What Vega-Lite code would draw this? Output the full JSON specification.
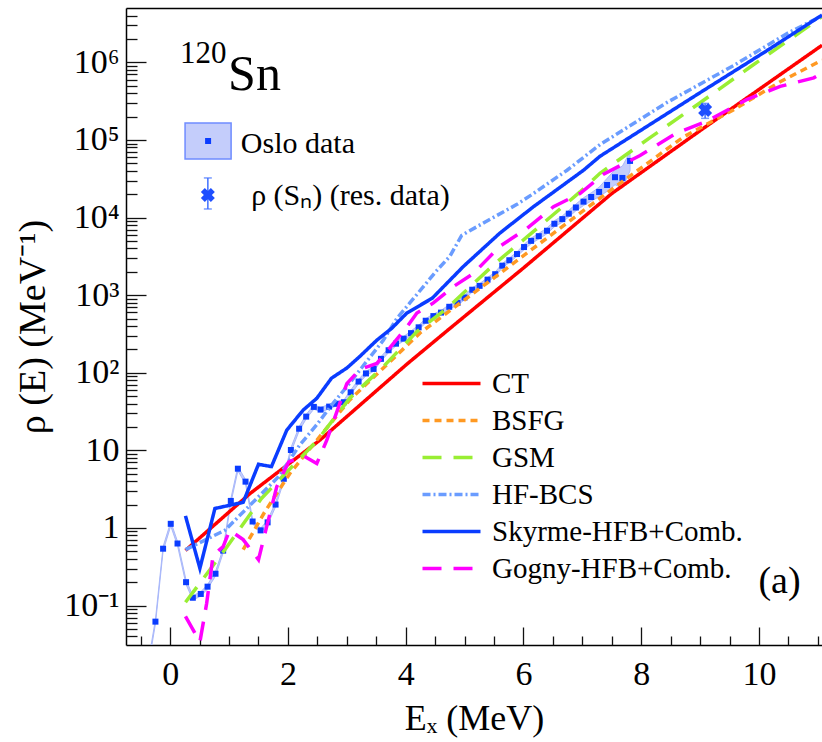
{
 "$schema": "https://vega.github.io/schema/vega-lite/v6.json",
 "width": 696, "height": 637,
 "autosize": {"type": "none"},
 "padding": {"left": 126, "top": 8, "right": 0, "bottom": 97},
 "background": "white",
 "config": {
  "font": "Liberation Serif",
  "view": {"stroke": null},
  "axis": {"grid": false, "domainColor": "black", "domainWidth": 1.5, "tickColor": "#111111", "tickWidth": 1.3,
   "labelFont": "Liberation Serif", "labelFontSize": 34, "labelColor": "black",
   "titleFont": "Liberation Serif", "titleFontSize": 36, "titleFontWeight": "normal", "titleColor": "black"}
 },
 "datasets": {
  "oslo": [
   {"E": -0.375, "rho": 0.017, "lo": 0.0158, "hi": 0.0182},
   {"E": -0.25, "rho": 0.062, "lo": 0.058, "hi": 0.066},
   {"E": -0.12, "rho": 0.54, "lo": 0.505, "hi": 0.575},
   {"E": 0.01, "rho": 1.13, "lo": 1.06, "hi": 1.2},
   {"E": 0.125, "rho": 0.63, "lo": 0.59, "hi": 0.67},
   {"E": 0.27, "rho": 0.2, "lo": 0.187, "hi": 0.213},
   {"E": 0.385, "rho": 0.126, "lo": 0.118, "hi": 0.134},
   {"E": 0.52, "rho": 0.141, "lo": 0.132, "hi": 0.15},
   {"E": 0.635, "rho": 0.175, "lo": 0.164, "hi": 0.186},
   {"E": 0.77, "rho": 0.257, "lo": 0.24, "hi": 0.274},
   {"E": 0.9, "rho": 0.51, "lo": 0.477, "hi": 0.543},
   {"E": 1.03, "rho": 2.23, "lo": 2.09, "hi": 2.37},
   {"E": 1.15, "rho": 5.8, "lo": 5.43, "hi": 6.17},
   {"E": 1.28, "rho": 3.95, "lo": 3.7, "hi": 4.2},
   {"E": 1.4, "rho": 1.21, "lo": 1.13, "hi": 1.29},
   {"E": 1.536, "rho": 0.93, "lo": 0.87, "hi": 0.99},
   {"E": 1.655, "rho": 1.18, "lo": 1.1, "hi": 1.26},
   {"E": 1.79, "rho": 2.0, "lo": 1.87, "hi": 2.13},
   {"E": 1.93, "rho": 4.3, "lo": 4.02, "hi": 4.58},
   {"E": 2.05, "rho": 10.1, "lo": 9.45, "hi": 10.75},
   {"E": 2.19, "rho": 19, "lo": 17.8, "hi": 20.2},
   {"E": 2.31, "rho": 27.2, "lo": 25.4, "hi": 29},
   {"E": 2.44, "rho": 36.3, "lo": 34, "hi": 38.6},
   {"E": 2.555, "rho": 33.5, "lo": 31.3, "hi": 35.7},
   {"E": 2.7, "rho": 36.6, "lo": 34.2, "hi": 39},
   {"E": 2.815, "rho": 39.8, "lo": 37.2, "hi": 42.4},
   {"E": 2.95, "rho": 41.7, "lo": 39, "hi": 44.4},
   {"E": 3.065, "rho": 56, "lo": 52.4, "hi": 59.6},
   {"E": 3.2, "rho": 77, "lo": 72, "hi": 82},
   {"E": 3.325, "rho": 98, "lo": 91.6, "hi": 104.4},
   {"E": 3.455, "rho": 112, "lo": 104.7, "hi": 119.3},
   {"E": 3.58, "rho": 151, "lo": 141, "hi": 161},
   {"E": 3.71, "rho": 195, "lo": 182, "hi": 208},
   {"E": 3.835, "rho": 237, "lo": 222, "hi": 252},
   {"E": 3.965, "rho": 275, "lo": 257, "hi": 293},
   {"E": 4.09, "rho": 324, "lo": 303, "hi": 345},
   {"E": 4.22, "rho": 385, "lo": 360, "hi": 410},
   {"E": 4.34, "rho": 468, "lo": 438, "hi": 498},
   {"E": 4.47, "rho": 537, "lo": 502, "hi": 572},
   {"E": 4.6, "rho": 596, "lo": 557, "hi": 635},
   {"E": 4.74, "rho": 708, "lo": 662, "hi": 754},
   {"E": 4.88, "rho": 794, "lo": 742, "hi": 846},
   {"E": 5.0, "rho": 933, "lo": 872, "hi": 994},
   {"E": 5.13, "rho": 1175, "lo": 1099, "hi": 1251},
   {"E": 5.255, "rho": 1318, "lo": 1232, "hi": 1404},
   {"E": 5.39, "rho": 1585, "lo": 1482, "hi": 1688},
   {"E": 5.52, "rho": 1862, "lo": 1741, "hi": 1983},
   {"E": 5.64, "rho": 2399, "lo": 2243, "hi": 2555},
   {"E": 5.76, "rho": 2818, "lo": 2635, "hi": 3001},
   {"E": 5.89, "rho": 3388, "lo": 3168, "hi": 3608},
   {"E": 6.01, "rho": 4169, "lo": 3850, "hi": 4510},
   {"E": 6.13, "rho": 5012, "lo": 4610, "hi": 5430},
   {"E": 6.26, "rho": 5754, "lo": 5290, "hi": 6240},
   {"E": 6.4, "rho": 6761, "lo": 6200, "hi": 7350},
   {"E": 6.525, "rho": 8318, "lo": 7600, "hi": 9100},
   {"E": 6.66, "rho": 9550, "lo": 8700, "hi": 10500},
   {"E": 6.77, "rho": 11220, "lo": 10200, "hi": 12400},
   {"E": 6.89, "rho": 13490, "lo": 12200, "hi": 14900},
   {"E": 7.02, "rho": 16030, "lo": 14300, "hi": 18000},
   {"E": 7.15, "rho": 18410, "lo": 16300, "hi": 20800},
   {"E": 7.285, "rho": 21380, "lo": 18600, "hi": 24600},
   {"E": 7.42, "rho": 26300, "lo": 21800, "hi": 32000},
   {"E": 7.555, "rho": 33100, "lo": 26500, "hi": 41500},
   {"E": 7.68, "rho": 32400, "lo": 24000, "hi": 46000},
   {"E": 7.81, "rho": 53700, "lo": 40000, "hi": 70000}
  ],
  "models": [
   {"model": "CT", "E": 0.26, "rho": 0.513},
   {"model": "CT", "E": 1.36, "rho": 2.79},
   {"model": "CT", "E": 2.54, "rho": 13.5},
   {"model": "CT", "E": 4.02, "rho": 129},
   {"model": "CT", "E": 4.75, "rho": 372},
   {"model": "CT", "E": 6.0, "rho": 2239},
   {"model": "CT", "E": 7.5, "rho": 20420},
   {"model": "CT", "E": 9.0, "rho": 131800},
   {"model": "CT", "E": 10.13, "rho": 524800},
   {"model": "CT", "E": 11.07, "rho": 1660000},
   {"model": "BSFG", "E": 1.24, "rho": 0.525},
   {"model": "BSFG", "E": 1.6, "rho": 1.58},
   {"model": "BSFG", "E": 2.03, "rho": 5.0},
   {"model": "BSFG", "E": 2.49, "rho": 13.5},
   {"model": "BSFG", "E": 3.05, "rho": 44.7},
   {"model": "BSFG", "E": 3.62, "rho": 115},
   {"model": "BSFG", "E": 4.24, "rho": 324},
   {"model": "BSFG", "E": 5.6, "rho": 1905},
   {"model": "BSFG", "E": 6.74, "rho": 8511},
   {"model": "BSFG", "E": 7.53, "rho": 23990},
   {"model": "BSFG", "E": 8.72, "rho": 109600},
   {"model": "BSFG", "E": 9.57, "rho": 245500},
   {"model": "BSFG", "E": 10.36, "rho": 562300},
   {"model": "BSFG", "E": 11.07, "rho": 1070000},
   {"model": "GSM", "E": 0.26, "rho": 0.11},
   {"model": "GSM", "E": 0.93, "rho": 0.525},
   {"model": "GSM", "E": 1.55, "rho": 2.4},
   {"model": "GSM", "E": 2.49, "rho": 13.2},
   {"model": "GSM", "E": 3.05, "rho": 47},
   {"model": "GSM", "E": 3.62, "rho": 120},
   {"model": "GSM", "E": 4.19, "rho": 339},
   {"model": "GSM", "E": 4.7, "rho": 676},
   {"model": "GSM", "E": 5.55, "rho": 2692},
   {"model": "GSM", "E": 6.06, "rho": 5623},
   {"model": "GSM", "E": 6.96, "rho": 21380},
   {"model": "GSM", "E": 7.3, "rho": 37150},
   {"model": "GSM", "E": 8.15, "rho": 107200},
   {"model": "GSM", "E": 9.0, "rho": 302000},
   {"model": "GSM", "E": 9.85, "rho": 871000},
   {"model": "GSM", "E": 10.7, "rho": 2450000},
   {"model": "GSM", "E": 11.07, "rho": 3890000},
   {"model": "HF-BCS", "E": 0.26, "rho": 0.525},
   {"model": "HF-BCS", "E": 0.93, "rho": 0.933},
   {"model": "HF-BCS", "E": 1.84, "rho": 4.57},
   {"model": "HF-BCS", "E": 2.2, "rho": 11.7},
   {"model": "HF-BCS", "E": 2.49, "rho": 21.4},
   {"model": "HF-BCS", "E": 2.77, "rho": 40.7},
   {"model": "HF-BCS", "E": 3.0, "rho": 66.1},
   {"model": "HF-BCS", "E": 3.62, "rho": 263},
   {"model": "HF-BCS", "E": 3.85, "rho": 501},
   {"model": "HF-BCS", "E": 4.07, "rho": 794},
   {"model": "HF-BCS", "E": 4.53, "rho": 2089},
   {"model": "HF-BCS", "E": 4.75, "rho": 3162},
   {"model": "HF-BCS", "E": 4.95, "rho": 5888},
   {"model": "HF-BCS", "E": 5.32, "rho": 8511},
   {"model": "HF-BCS", "E": 5.89, "rho": 14790},
   {"model": "HF-BCS", "E": 6.17, "rho": 20420},
   {"model": "HF-BCS", "E": 6.74, "rho": 40740},
   {"model": "HF-BCS", "E": 7.3, "rho": 87100},
   {"model": "HF-BCS", "E": 8.43, "rho": 302000},
   {"model": "HF-BCS", "E": 9.57, "rho": 912000},
   {"model": "HF-BCS", "E": 10.47, "rho": 2340000},
   {"model": "HF-BCS", "E": 11.07, "rho": 3980000},
   {"model": "Skyrme-HFB+Comb.", "E": 0.26, "rho": 1.43},
   {"model": "Skyrme-HFB+Comb.", "E": 0.505, "rho": 0.302},
   {"model": "Skyrme-HFB+Comb.", "E": 0.76, "rho": 1.78},
   {"model": "Skyrme-HFB+Comb.", "E": 1.24, "rho": 2.14},
   {"model": "Skyrme-HFB+Comb.", "E": 1.5, "rho": 6.61},
   {"model": "Skyrme-HFB+Comb.", "E": 1.72, "rho": 6.17},
   {"model": "Skyrme-HFB+Comb.", "E": 1.98, "rho": 18.2},
   {"model": "Skyrme-HFB+Comb.", "E": 2.26, "rho": 33.1},
   {"model": "Skyrme-HFB+Comb.", "E": 2.49, "rho": 46.8},
   {"model": "Skyrme-HFB+Comb.", "E": 2.74, "rho": 85.1},
   {"model": "Skyrme-HFB+Comb.", "E": 3.0, "rho": 115},
   {"model": "Skyrme-HFB+Comb.", "E": 3.22, "rho": 162},
   {"model": "Skyrme-HFB+Comb.", "E": 3.51, "rho": 263},
   {"model": "Skyrme-HFB+Comb.", "E": 3.76, "rho": 372},
   {"model": "Skyrme-HFB+Comb.", "E": 4.02, "rho": 589},
   {"model": "Skyrme-HFB+Comb.", "E": 4.45, "rho": 912},
   {"model": "Skyrme-HFB+Comb.", "E": 4.98, "rho": 2344},
   {"model": "Skyrme-HFB+Comb.", "E": 5.6, "rho": 6310},
   {"model": "Skyrme-HFB+Comb.", "E": 6.17, "rho": 13800},
   {"model": "Skyrme-HFB+Comb.", "E": 7.02, "rho": 40740},
   {"model": "Skyrme-HFB+Comb.", "E": 7.3, "rho": 61660},
   {"model": "Skyrme-HFB+Comb.", "E": 9.0, "rho": 407400},
   {"model": "Skyrme-HFB+Comb.", "E": 10.13, "rho": 1410000},
   {"model": "Skyrme-HFB+Comb.", "E": 11.07, "rho": 4070000},
   {"model": "Gogny-HFB+Comb.", "E": 0.26, "rho": 0.0724},
   {"model": "Gogny-HFB+Comb.", "E": 0.505, "rho": 0.0339},
   {"model": "Gogny-HFB+Comb.", "E": 0.62, "rho": 0.107},
   {"model": "Gogny-HFB+Comb.", "E": 0.73, "rho": 0.447},
   {"model": "Gogny-HFB+Comb.", "E": 0.9, "rho": 0.575},
   {"model": "Gogny-HFB+Comb.", "E": 1.01, "rho": 0.933},
   {"model": "Gogny-HFB+Comb.", "E": 1.24, "rho": 0.708},
   {"model": "Gogny-HFB+Comb.", "E": 1.5, "rho": 0.389},
   {"model": "Gogny-HFB+Comb.", "E": 1.64, "rho": 1.05},
   {"model": "Gogny-HFB+Comb.", "E": 1.81, "rho": 3.39},
   {"model": "Gogny-HFB+Comb.", "E": 2.01, "rho": 7.08},
   {"model": "Gogny-HFB+Comb.", "E": 2.26, "rho": 8.51},
   {"model": "Gogny-HFB+Comb.", "E": 2.49, "rho": 6.76},
   {"model": "Gogny-HFB+Comb.", "E": 2.66, "rho": 13.5},
   {"model": "Gogny-HFB+Comb.", "E": 2.86, "rho": 36.3},
   {"model": "Gogny-HFB+Comb.", "E": 3.0, "rho": 72.4},
   {"model": "Gogny-HFB+Comb.", "E": 3.22, "rho": 110},
   {"model": "Gogny-HFB+Comb.", "E": 3.51, "rho": 132},
   {"model": "Gogny-HFB+Comb.", "E": 3.73, "rho": 209},
   {"model": "Gogny-HFB+Comb.", "E": 4.02, "rho": 389},
   {"model": "Gogny-HFB+Comb.", "E": 4.19, "rho": 589},
   {"model": "Gogny-HFB+Comb.", "E": 4.47, "rho": 794},
   {"model": "Gogny-HFB+Comb.", "E": 4.81, "rho": 1288},
   {"model": "Gogny-HFB+Comb.", "E": 5.15, "rho": 1905},
   {"model": "Gogny-HFB+Comb.", "E": 5.6, "rho": 4266},
   {"model": "Gogny-HFB+Comb.", "E": 6.06, "rho": 7244},
   {"model": "Gogny-HFB+Comb.", "E": 6.51, "rho": 13800},
   {"model": "Gogny-HFB+Comb.", "E": 6.96, "rho": 20420},
   {"model": "Gogny-HFB+Comb.", "E": 7.36, "rho": 36310},
   {"model": "Gogny-HFB+Comb.", "E": 7.98, "rho": 63100},
   {"model": "Gogny-HFB+Comb.", "E": 8.6, "rho": 123000},
   {"model": "Gogny-HFB+Comb.", "E": 9.11, "rho": 173800},
   {"model": "Gogny-HFB+Comb.", "E": 9.79, "rho": 331100},
   {"model": "Gogny-HFB+Comb.", "E": 10.36, "rho": 489800},
   {"model": "Gogny-HFB+Comb.", "E": 10.93, "rho": 631000},
   {"model": "Gogny-HFB+Comb.", "E": 11.07, "rho": 724400}
  ],
  "sn": [{"E": 9.085, "rho": 244000, "lo": 190000, "hi": 296000}]
 },
 "resolve": {"axis": {"x": "independent", "y": "independent"}},
 "layer": [
  {
   "data": {"name": "oslo"},
   "mark": {"type": "area", "fill": "#c4cdfb", "stroke": "#a9b8fa", "strokeWidth": 1, "clip": true},
   "encoding": {
    "x": {"field": "E", "type": "quantitative",
     "scale": {"domain": [-0.75, 11.07], "nice": false, "zero": false},
     "axis": {"orient": "bottom", "values": [0, 2, 4, 6, 8, 10], "format": "d", "ticks": false, "labelPadding": 12, "title": "Eₓ (MeV)", "titlePadding": 10}},
    "y": {"field": "lo", "type": "quantitative",
     "scale": {"type": "log", "domain": [0.031, 5020000], "nice": false},
     "axis": {"orient": "left", "values": [0.1, 1, 10, 100, 1000, 10000, 100000, 1000000], "ticks": false, "labelPadding": 7,
      "labelExpr": "round(log(datum.value)/LN10)==0 ? '1' : round(log(datum.value)/LN10)==1 ? '10' : round(log(datum.value)/LN10)==-1 ? '10⁻¹' : '10' + substring('⁰¹²³⁴⁵⁶⁷⁸⁹', round(log(datum.value)/LN10), round(log(datum.value)/LN10)+1)",
      "title": "ρ (E) (MeV⁻¹)", "titleFontSize": 38, "titlePadding": 11}},
    "y2": {"field": "hi"}
   }
  },
  {
   "data": {"name": "oslo"},
   "mark": {"type": "point", "shape": "square", "filled": true, "size": 36, "color": "#0a3cff", "opacity": 1, "clip": true},
   "encoding": {
    "x": {"field": "E", "type": "quantitative",
     "axis": {"orient": "bottom", "values": [0, 2, 4, 6, 8, 10], "offset": -18, "tickSize": 18, "labels": false, "domain": false, "title": null}},
    "y": {"field": "rho", "type": "quantitative",
     "axis": {"orient": "left", "values": [0.1, 1, 10, 100, 1000, 10000, 100000, 1000000], "offset": -20, "tickSize": 20, "labels": false, "domain": false, "title": null}}
   }
  },
  {
   "data": {"name": "models"},
   "mark": {"type": "line", "strokeWidth": 3.5, "clip": true},
   "encoding": {
    "x": {"field": "E", "type": "quantitative", "axis": {"orient": "top", "ticks": false, "labels": false, "title": null, "domain": true}},
    "y": {"field": "rho", "type": "quantitative", "axis": null},
    "color": {"field": "model", "type": "nominal",
     "scale": {"domain": ["CT", "BSFG", "GSM", "HF-BCS", "Skyrme-HFB+Comb.", "Gogny-HFB+Comb."], "range": ["#ff0000", "#ff9922", "#99ee33", "#6a9cff", "#0a3cff", "#ff00ff"]},
     "legend": {"orient": "none", "legendX": 309, "legendY": 359, "title": null, "symbolType": "M-2,0H2", "symbolSize": 841, "symbolStrokeWidth": 3.5, "labelFont": "Liberation Serif", "labelFontSize": 29, "labelColor": "black", "labelOffset": 24, "rowPadding": 5, "padding": 0, "labelLimit": 400}},
    "strokeDash": {"field": "model", "type": "nominal",
     "scale": {"domain": ["CT", "BSFG", "GSM", "HF-BCS", "Skyrme-HFB+Comb.", "Gogny-HFB+Comb."], "range": [[1, 0], [7, 5], [19, 12], [8, 3, 2, 3], [1, 0], [19, 12]]},
     "legend": {"orient": "none", "legendX": 309, "legendY": 359, "title": null, "symbolType": "M-2,0H2", "symbolSize": 841, "symbolStrokeWidth": 3.5, "labelFont": "Liberation Serif", "labelFontSize": 29, "labelColor": "black", "labelOffset": 24, "rowPadding": 5, "padding": 0, "labelLimit": 400}}
   }
  },
  {
   "data": {"name": "sn"},
   "mark": {"type": "rule", "color": "#4070ff", "strokeWidth": 1.5},
   "encoding": {
    "x": {"field": "E", "type": "quantitative",
     "axis": {"orient": "bottom", "values": [-0.5, 0.5, 1, 1.5, 2.5, 3, 3.5, 4.5, 5, 5.5, 6.5, 7, 7.5, 8.5, 9, 9.5, 10.5, 11], "offset": -9, "tickSize": 9, "labels": false, "domain": false, "title": null}},
    "y": {"field": "lo", "type": "quantitative",
     "axis": {"orient": "left", "values": [0.04, 0.05, 0.06, 0.07, 0.08, 0.09, 0.2, 0.3, 0.4, 0.5, 0.6, 0.7, 0.8, 0.9, 2, 3, 4, 5, 6, 7, 8, 9, 20, 30, 40, 50, 60, 70, 80, 90, 200, 300, 400, 500, 600, 700, 800, 900, 2000, 3000, 4000, 5000, 6000, 7000, 8000, 9000, 20000, 30000, 40000, 50000, 60000, 70000, 80000, 90000, 200000, 300000, 400000, 500000, 600000, 700000, 800000, 900000, 2000000, 3000000, 4000000], "offset": -11, "tickSize": 11, "labels": false, "domain": false, "title": null}},
    "y2": {"field": "hi"}
   }
  },
  {
   "data": {"name": "sn"},
   "mark": {"type": "tick", "orient": "horizontal", "size": 8, "thickness": 1.5, "color": "#4070ff"},
   "encoding": {"x": {"field": "E", "type": "quantitative", "axis": null}, "y": {"field": "lo", "type": "quantitative", "axis": null}}
  },
  {
   "data": {"name": "sn"},
   "mark": {"type": "tick", "orient": "horizontal", "size": 8, "thickness": 1.5, "color": "#4070ff"},
   "encoding": {"x": {"field": "E", "type": "quantitative", "axis": null}, "y": {"field": "hi", "type": "quantitative", "axis": null}}
  },
  {
   "data": {"name": "sn"},
   "mark": {"type": "point", "shape": "cross", "angle": 45, "filled": true, "size": 200, "color": "#1f4fff", "opacity": 1},
   "encoding": {"x": {"field": "E", "type": "quantitative", "axis": null}, "y": {"field": "rho", "type": "quantitative", "axis": null}}
  },
  {
   "data": {"values": [{}]},
   "mark": {"type": "text", "text": "120", "font": "Liberation Serif", "fontSize": 31, "align": "left", "baseline": "alphabetic", "color": "black"},
   "encoding": {"x": {"datum": 0.165, "axis": null}, "y": {"datum": 983000, "axis": null}}
  },
  {
   "data": {"values": [{}]},
   "mark": {"type": "text", "text": "Sn", "font": "Liberation Serif", "fontSize": 50, "align": "left", "baseline": "alphabetic", "color": "black"},
   "encoding": {"x": {"datum": 0.984, "axis": null}, "y": {"datum": 440000, "axis": null}}
  },
  {
   "data": {"values": [{}]},
   "mark": {"type": "rect", "fill": "#c4cdfb", "stroke": "#6f8cff", "strokeWidth": 1.5},
   "encoding": {"x": {"datum": 0.253, "axis": null}, "x2": {"datum": 1.035}, "y": {"datum": 56900, "axis": null}, "y2": {"datum": 165600}}
  },
  {
   "data": {"values": [{}]},
   "mark": {"type": "point", "shape": "square", "filled": true, "size": 36, "color": "#0a3cff", "opacity": 1},
   "encoding": {"x": {"datum": 0.644, "axis": null}, "y": {"datum": 97000, "axis": null}}
  },
  {
   "data": {"values": [{}]},
   "mark": {"type": "text", "text": "Oslo data", "font": "Liberation Serif", "fontSize": 30, "align": "left", "baseline": "alphabetic", "color": "black"},
   "encoding": {"x": {"datum": 1.2, "axis": null}, "y": {"datum": 68000, "axis": null}}
  },
  {
   "data": {"values": [{}]},
   "mark": {"type": "rule", "color": "#4070ff", "strokeWidth": 1.5},
   "encoding": {"x": {"datum": 0.64, "axis": null}, "y": {"datum": 12900, "axis": null}, "y2": {"datum": 32400}}
  },
  {
   "data": {"values": [{}]},
   "mark": {"type": "tick", "orient": "horizontal", "size": 8, "thickness": 1.5, "color": "#4070ff"},
   "encoding": {"x": {"datum": 0.64, "axis": null}, "y": {"datum": 12900, "axis": null}}
  },
  {
   "data": {"values": [{}]},
   "mark": {"type": "tick", "orient": "horizontal", "size": 8, "thickness": 1.5, "color": "#4070ff"},
   "encoding": {"x": {"datum": 0.64, "axis": null}, "y": {"datum": 32400, "axis": null}}
  },
  {
   "data": {"values": [{}]},
   "mark": {"type": "point", "shape": "cross", "angle": 45, "filled": true, "size": 200, "color": "#1f4fff", "opacity": 1},
   "encoding": {"x": {"datum": 0.64, "axis": null}, "y": {"datum": 19600, "axis": null}}
  },
  {
   "data": {"values": [{}]},
   "mark": {"type": "text", "text": "ρ (Sₙ) (res. data)", "font": "Liberation Serif", "fontSize": 30, "align": "left", "baseline": "alphabetic", "color": "black"},
   "encoding": {"x": {"datum": 1.375, "axis": null}, "y": {"datum": 14500, "axis": null}}
  },
  {
   "data": {"values": [{}]},
   "mark": {"type": "text", "text": "(a)", "font": "Liberation Serif", "fontSize": 38, "align": "left", "baseline": "alphabetic", "color": "black"},
   "encoding": {"x": {"datum": 9.99, "axis": null}, "y": {"datum": 0.145, "axis": null}}
  }
 ]
}
